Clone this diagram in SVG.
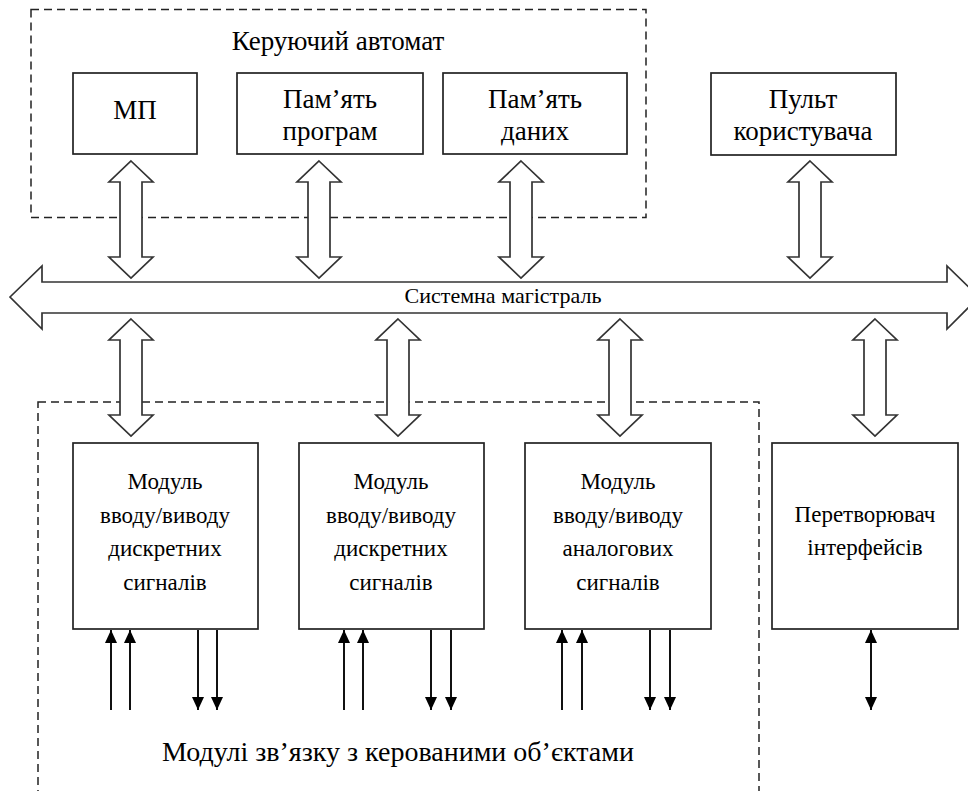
<svg xmlns="http://www.w3.org/2000/svg" width="968" height="791" viewBox="0 0 968 791">
  <defs>
    <style>
      .box { fill: #ffffff; stroke: #222222; stroke-width: 1.7; }
      .frame { fill: none; stroke: #222222; stroke-width: 1.5; stroke-dasharray: 8 5; }
      .bus { fill: #ffffff; stroke: #333333; stroke-width: 1.7; stroke-linejoin: miter; }
      .sig { stroke: #111111; stroke-width: 2; fill: none; }
      .t { font-family: "Liberation Serif", "Times New Roman", serif; fill: #000000; text-anchor: middle; }
      .t27 { font-size: 27px; }
      .t28 { font-size: 28px; }
      .t24 { font-size: 23px; }
      .t22 { font-size: 22px; }
    </style>
    <marker id="head" viewBox="0 0 13 12" refX="13" refY="6" markerWidth="13" markerHeight="12" markerUnits="userSpaceOnUse" orient="auto-start-reverse">
      <path d="M0,0 L13,6 L0,12 Z" fill="#000000"/>
    </marker>
  </defs>

  <!-- control unit frame -->
  <g id="control-unit">
    <rect class="frame" x="31" y="9.5" width="615" height="208"/>
    <text class="t t27" x="338" y="50">Керуючий автомат</text>
  </g>

  <g id="mp">
    <rect class="box" x="73" y="73" width="124" height="81"/>
    <text class="t t27" x="135" y="119">МП</text>
  </g>

  <g id="program-memory">
    <rect class="box" x="237" y="73" width="186" height="81"/>
    <text class="t t27" x="330" y="108">Пам’ять</text>
    <text class="t t27" x="330" y="140">програм</text>
  </g>

  <g id="data-memory">
    <rect class="box" x="443" y="73" width="184" height="81"/>
    <text class="t t27" x="535" y="108">Пам’ять</text>
    <text class="t t27" x="535" y="140">даних</text>
  </g>

  <g id="user-console">
    <rect class="box" x="711" y="73" width="185" height="82"/>
    <text class="t t27" x="803" y="108">Пульт</text>
    <text class="t t27" x="803" y="140">користувача</text>
  </g>

  <!-- object interface modules frame -->
  <g id="object-modules">
    <rect class="frame" x="38" y="402" width="721" height="400"/>
    <text class="t t28" x="398" y="761">Модулі зв’язку з керованими об’єктами</text>
  </g>

  <g id="dio-1">
    <rect class="box" x="73" y="443" width="185" height="186"/>
    <text class="t t24" x="165" y="489">Модуль</text>
    <text class="t t24" x="165" y="523">вводу/виводу</text>
    <text class="t t24" x="165" y="556">дискретних</text>
    <text class="t t24" x="165" y="590">сигналів</text>
  </g>

  <g id="dio-2">
    <rect class="box" x="299" y="443" width="185" height="186"/>
    <text class="t t24" x="391" y="489">Модуль</text>
    <text class="t t24" x="391" y="523">вводу/виводу</text>
    <text class="t t24" x="391" y="556">дискретних</text>
    <text class="t t24" x="391" y="590">сигналів</text>
  </g>

  <g id="aio">
    <rect class="box" x="525" y="443" width="186" height="186"/>
    <text class="t t24" x="618" y="489">Модуль</text>
    <text class="t t24" x="618" y="523">вводу/виводу</text>
    <text class="t t24" x="618" y="556">аналогових</text>
    <text class="t t24" x="618" y="590">сигналів</text>
  </g>

  <g id="interface-converter">
    <rect class="box" x="772" y="443" width="186" height="186"/>
    <text class="t t24" x="865" y="522">Перетворювач</text>
    <text class="t t24" x="865" y="555">інтерфейсів</text>
  </g>

  <!-- system bus and connectors -->
  <g id="connectors">
    <path id="system-bus" class="bus" d="M10,297 L42,266 L42,282 L947,282 L947,266 L979,297 L947,329 L947,313 L42,313 L42,329 Z"/>
    <text class="t t22" x="503" y="303">Системна магістраль</text>

    <!-- upper bus taps -->
    <path class="bus" d="M131,161 L153,182 L142,182 L142,257 L153,257 L131,278 L109,257 L120,257 L120,182 L109,182 Z"/>
    <path class="bus" d="M319,161 L341,182 L330,182 L330,257 L341,257 L319,278 L297,257 L308,257 L308,182 L297,182 Z"/>
    <path class="bus" d="M521,161 L543,182 L532,182 L532,257 L543,257 L521,278 L499,257 L510,257 L510,182 L499,182 Z"/>
    <path class="bus" d="M810,161 L832,182 L821,182 L821,257 L832,257 L810,278 L788,257 L799,257 L799,182 L788,182 Z"/>

    <!-- lower bus taps -->
    <path class="bus" d="M131,319 L153,340 L142,340 L142,415 L153,415 L131,436 L109,415 L120,415 L120,340 L109,340 Z"/>
    <path class="bus" d="M398,319 L420,340 L409,340 L409,415 L420,415 L398,436 L376,415 L387,415 L387,340 L376,340 Z"/>
    <path class="bus" d="M620,319 L642,340 L631,340 L631,415 L642,415 L620,436 L598,415 L609,415 L609,340 L598,340 Z"/>
    <path class="bus" d="M875,319 L897,340 L886,340 L886,415 L897,415 L875,436 L853,415 L864,415 L864,340 L853,340 Z"/>

    <!-- discrete module 1 signals -->
    <line class="sig" x1="111" y1="710" x2="111" y2="630" marker-end="url(#head)"/>
    <line class="sig" x1="130" y1="710" x2="130" y2="630" marker-end="url(#head)"/>
    <line class="sig" x1="198" y1="630" x2="198" y2="710" marker-end="url(#head)"/>
    <line class="sig" x1="217" y1="630" x2="217" y2="710" marker-end="url(#head)"/>

    <!-- discrete module 2 signals -->
    <line class="sig" x1="344" y1="710" x2="344" y2="630" marker-end="url(#head)"/>
    <line class="sig" x1="363" y1="710" x2="363" y2="630" marker-end="url(#head)"/>
    <line class="sig" x1="431" y1="630" x2="431" y2="710" marker-end="url(#head)"/>
    <line class="sig" x1="451" y1="630" x2="451" y2="710" marker-end="url(#head)"/>

    <!-- analog module signals -->
    <line class="sig" x1="562" y1="710" x2="562" y2="630" marker-end="url(#head)"/>
    <line class="sig" x1="582" y1="710" x2="582" y2="630" marker-end="url(#head)"/>
    <line class="sig" x1="650" y1="630" x2="650" y2="710" marker-end="url(#head)"/>
    <line class="sig" x1="670" y1="630" x2="670" y2="710" marker-end="url(#head)"/>

    <!-- converter external link -->
    <line class="sig" x1="871" y1="630" x2="871" y2="710" marker-start="url(#head)" marker-end="url(#head)"/>
  </g>
</svg>
